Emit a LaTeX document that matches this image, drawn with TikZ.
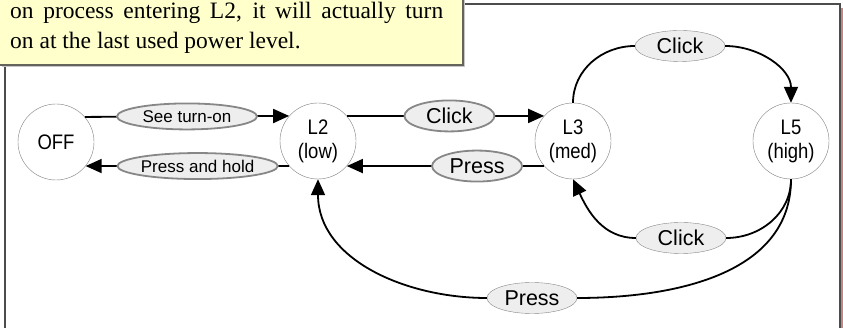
\documentclass[tikz,border=0pt]{standalone}
\usepackage{fontspec}
\setmainfont{Liberation Serif}
\setsansfont{Liberation Sans}
\newfontfamily\statefont[FakeStretch=0.88]{Liberation Sans}
\usetikzlibrary{shapes,arrows.meta}
\definecolor{notefill}{RGB}{255,255,204}
\definecolor{notedraw}{RGB}{100,100,90}
\definecolor{lblfill}{RGB}{238,238,238}
\definecolor{lbldraw}{RGB}{135,135,135}
\definecolor{framered}{RGB}{205,130,130}

\begin{document}
\begin{tikzpicture}[x=1pt,y=1pt]
\tikzstyle{state}=[circle,draw=gray,fill=white,minimum size=76pt,inner sep=0pt,align=center,font=\statefont\fontsize{21}{24}\selectfont]
\tikzstyle{lbl}=[ellipse,draw=lbldraw,fill=lblfill,inner sep=0pt,minimum height=26pt,font=\sffamily\fontsize{17}{20}\selectfont]
\tikzstyle{biglbl}=[lbl,minimum width=90pt,minimum height=31pt,font=\sffamily\fontsize{21.5}{24}\selectfont]
\tikzstyle{link}=[line width=1.8pt]
\tikzstyle{trans}=[link,-{Triangle[length=16pt,width=14pt]}]
	\useasboundingbox (0,0) rectangle (843,328);
	\clip (0,0) rectangle (843,328);
	% frame of the page
	\draw[framered,line width=2.5pt] (842,-10) -- (842,320);
	\draw[gray!60!black,line width=1.4pt] (5,-10) rectangle (840,324);
	% note
	\fill[gray!45] (2,261) rectangle (465,350);
	\draw[notedraw,fill=notefill,line width=1.2pt] (-2,263) rectangle (463,350);
	\node[anchor=base west,inner sep=0pt,font=\fontsize{23.5}{30}\selectfont] (note1) at (10,309)
		{\makebox[433pt][s]{on process entering L2, it will actually turn}};
	\node[anchor=base west,inner sep=0pt,font=\fontsize{23.5}{30}\selectfont] (note2) at (10,279)
		{on at the last used power level.};
	% states
	\node[state] (off) at (56,186) {OFF};
	\node[state] (l2) at (318,187) {L2\\(low)};
	\node[state] (l3) at (573,187) {L3\\(med)};
	\node[state] (l5) at (791,187) {L5\\(high)};
	% straight transitions
	\draw[trans] (off.41) -- node[lbl,minimum width=140pt] {See turn-on} (l2.139);
	\draw[trans] (l2.-139) -- node[lbl,pos=.45] {Press and hold} (off.-39);
	\draw[trans] (l2.41) -- node[biglbl,pos=.52] {Click} (l3.139);
	\draw[trans] (l3.-139) -- node[biglbl,pos=.34] {Press} (l2.-41);
	% loops
	\node[biglbl] (click1) at (680,282) {Click};
	\node[biglbl] (click2) at (681,90) {Click};
	\node[biglbl] (press2) at (532,30) {Press};
	\draw[link] (l3.north) to[out=90,in=180] (click1);
	\draw[trans] (click1) to[out=0,in=90] (l5.north);
	\draw[link] (l5.south) to[out=-90,in=0] (click2);
	\draw[trans] (click2) to[out=180,in=-65] (l3.south);
	\draw[link] (l5.south) to[out=-90,in=0] (press2);
	\draw[trans] (press2) to[out=180,in=-90] (l2.south);
\end{tikzpicture}
\end{document}
